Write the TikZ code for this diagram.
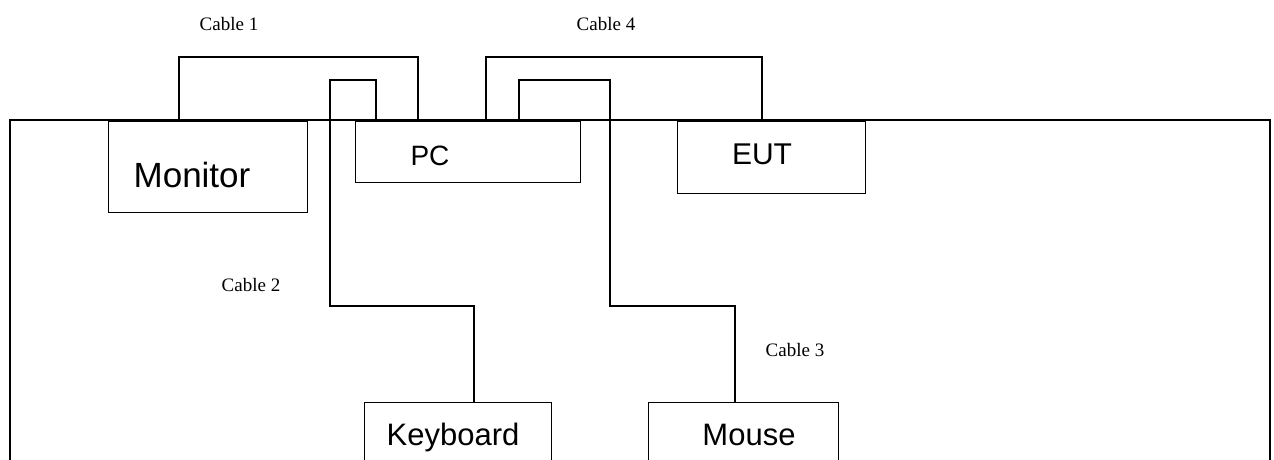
\documentclass[tikz,border=0pt]{standalone}
\usepackage{fontspec}
\setmainfont{Liberation Serif}
\newfontfamily\unitfont{Liberation Sans}
\usetikzlibrary{calc}

\begin{document}
\begin{tikzpicture}[x=1pt, y=-1pt, line width=1.3pt,
    unit/.style={draw, rectangle, anchor=north west, inner sep=0pt},
    unitname/.style={font=\unitfont\fontsize{#1}{#1}\selectfont, anchor=base},
    cablename/.style={font=\fontsize{19}{19}\selectfont, anchor=base}]
    \useasboundingbox (0,0) rectangle (1274,459);
    \clip (0,0) rectangle (1274,459);

    % Table
    \draw (10,120) rectangle (1270,480);

    % Units on the table
    \node[unit, minimum width=199, minimum height=91] (monitor) at (108,121) {};
    \node[unit, minimum width=225, minimum height=61] (pc) at (355,121) {};
    \node[unit, minimum width=188, minimum height=72] (eut) at (677,121) {};
    \node[unit, minimum width=187, minimum height=80] (keyboard) at (364,402) {};
    \node[unit, minimum width=190, minimum height=80] (mouse) at (648,402) {};

    % Unit names
    \node[unitname=35] (monitor-name) at (192,187) {Monitor};
    \node[unitname=28] (pc-name) at (430,165) {PC};
    \node[unitname=30] (eut-name) at (762,164) {EUT};
    \node[unitname=31] (keyboard-name) at (453,445) {Keyboard};
    \node[unitname=31] (mouse-name) at (749,445) {Mouse};

    % Cable ends
    \coordinate (mon1) at ($(monitor.north west)+(71,0)$);
    \coordinate (pc1) at ($(pc.north west)+(63,0)$);
    \coordinate (pc2) at ($(pc.north west)+(21,0)$);
    \coordinate (pc3) at ($(pc.north west)+(164,0)$);
    \coordinate (pc4) at ($(pc.north west)+(131,0)$);
    \coordinate (eut1) at ($(eut.north west)+(85,0)$);
    \coordinate (kb1) at ($(keyboard.north west)+(110,0)$);
    \coordinate (ms1) at ($(mouse.north west)+(87,0)$);

    % Cables
    \draw (mon1) -- (mon1 |- 0,57) -| (pc1);
    \draw (pc2) -- (pc2 |- 0,80) -- (330,80) -- (330,306) -| (kb1);
    \draw (pc3) -- (pc3 |- 0,80) -- (610,80) -- (610,306) -| (ms1);
    \draw (pc4) -- (pc4 |- 0,57) -| (eut1);

    % Cable names
    \node[cablename] (cable1) at (229,30) {Cable 1};
    \node[cablename] (cable2) at (251,291) {Cable 2};
    \node[cablename] (cable3) at (795,356) {Cable 3};
    \node[cablename] (cable4) at (606,30) {Cable 4};
\end{tikzpicture}
\end{document}
